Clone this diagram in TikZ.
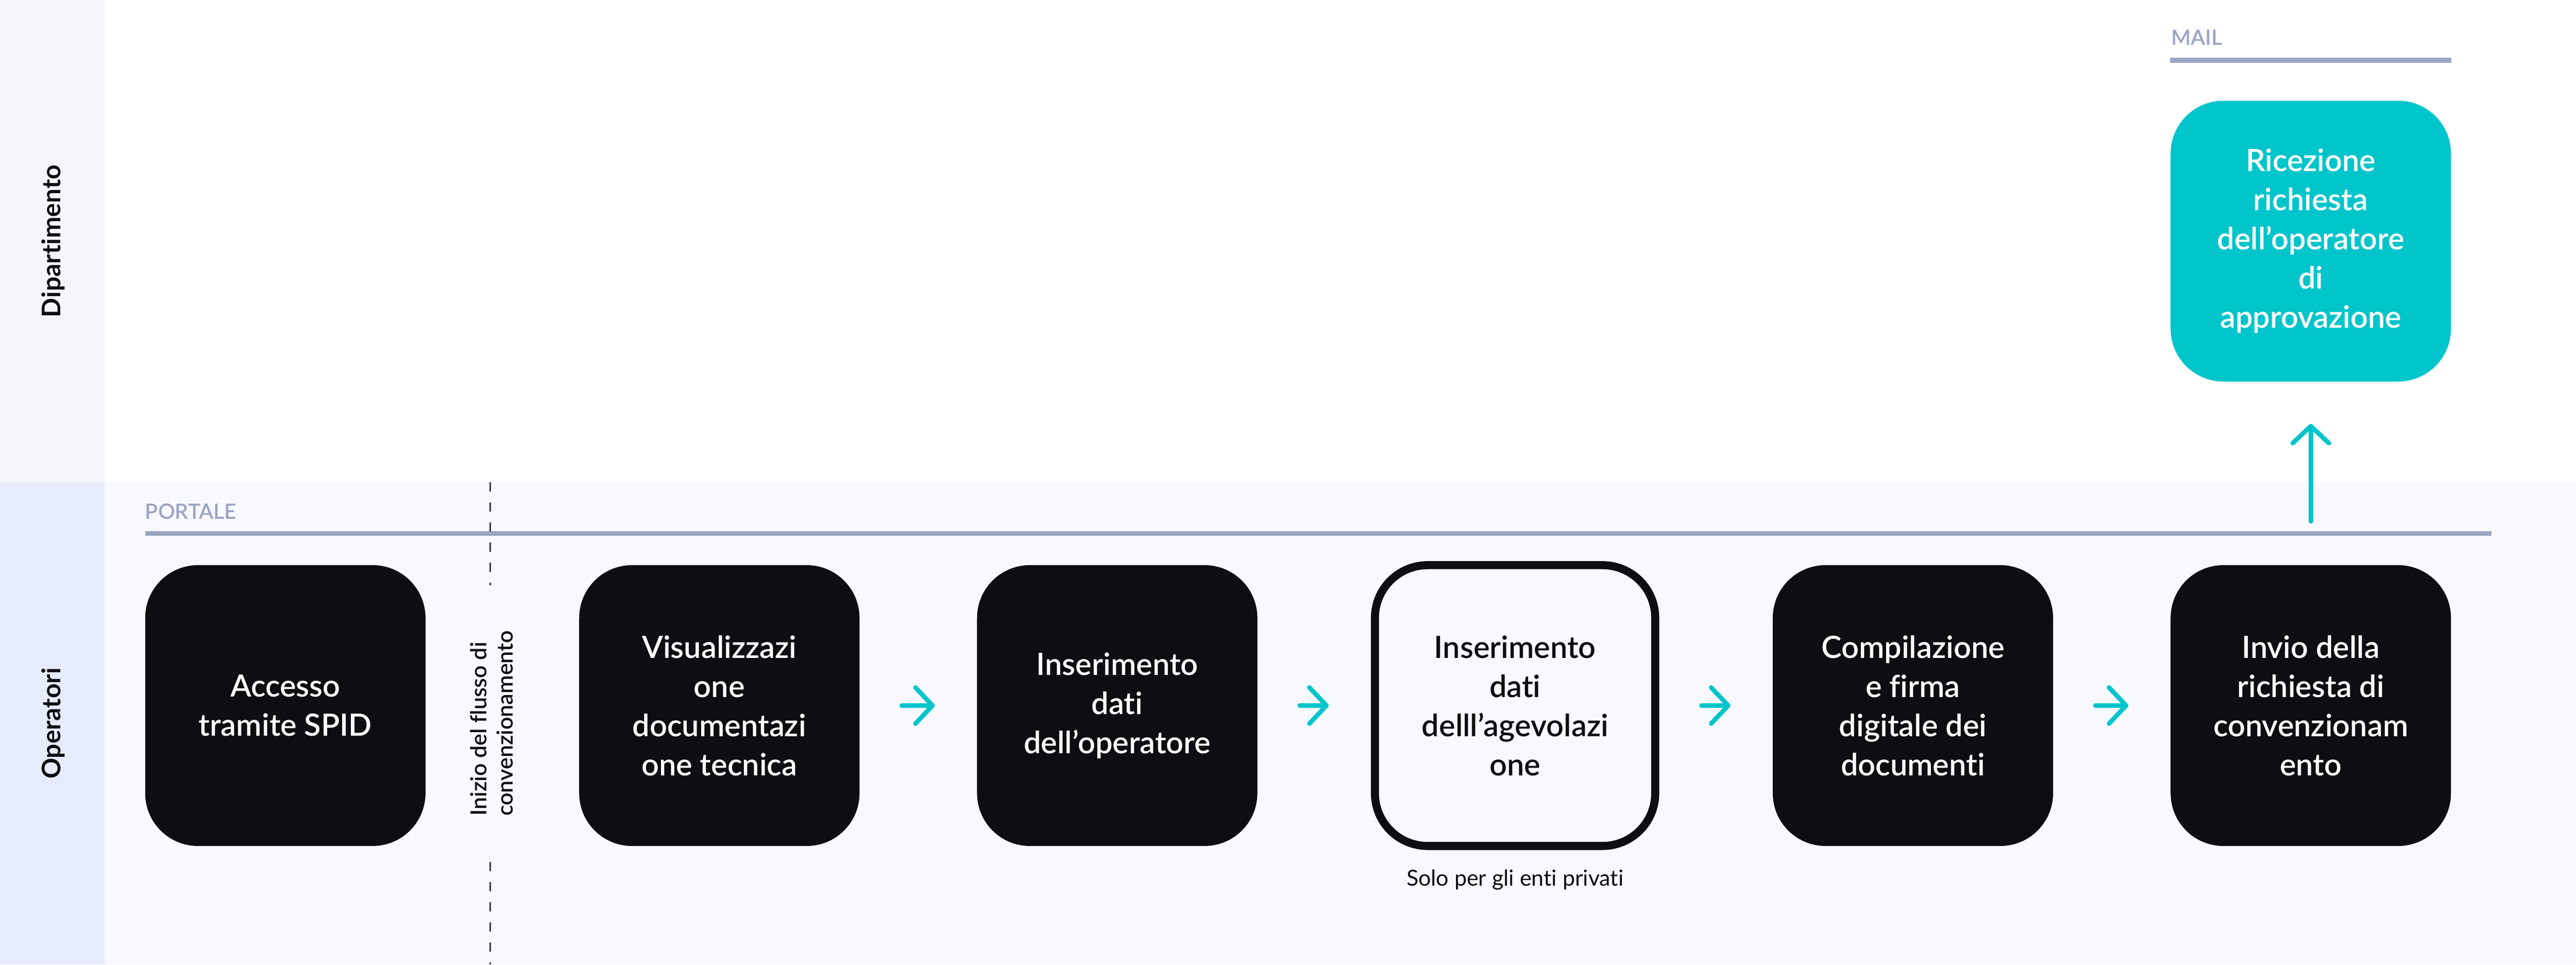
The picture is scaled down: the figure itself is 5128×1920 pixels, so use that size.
\documentclass[tikz,border=0pt]{standalone}
\usepackage{fontspec}
\setmainfont{Lato}[Ligatures={NoCommon,NoRare}]
\newfontfamily\semi{Lato Semibold}[Ligatures={NoCommon,NoRare}]
\usetikzlibrary{arrows.meta}
\definecolor{ink}{HTML}{0D0E12}
\definecolor{tealc}{HTML}{00C5CB}
\definecolor{lanegray}{HTML}{9BA5C4}
\definecolor{toplab}{HTML}{F4F6FB}
\definecolor{botlab}{HTML}{E6ECFB}
\definecolor{botbg}{HTML}{F7F9FE}
\definecolor{dashc}{HTML}{3A3B40}
\tikzset{
  stepbox/.style={rectangle, rounded corners=105pt, minimum width=558pt, minimum height=559pt,
    inner sep=0pt, align=center, font=\semi\fontsize{61}{78}\selectfont},
  darkbox/.style={stepbox, fill=ink, text=white},
  outlbox/.style={stepbox, draw=ink, line width=16pt, fill=botbg, text=ink},
  tealbox/.style={stepbox, fill=tealc, text=white},
  lanelab/.style={rotate=90, inner sep=0pt, text=ink, font=\bfseries\fontsize{51}{60}\selectfont},
  sublab/.style={anchor=base west, inner sep=0pt, text=lanegray, font=\semi\fontsize{42}{50}\selectfont},
  subline/.style={draw=lanegray, line width=10pt},
  flow/.style={draw=tealc, line width=9pt, line cap=round, shorten <=84pt, shorten >=84pt,
    -{Straight Barb[length=34pt,width=72pt,round]}},
  dashline/.style={draw=dashc, line width=3pt, dash pattern=on 18.5pt off 21.5pt},
}
\begin{document}
\begin{tikzpicture}[x=1pt,y=-1pt]
\useasboundingbox (0,0) rectangle (5128,1920);
% lanes
\fill[toplab] (0,0) rectangle (208,960);
\fill[white] (208,0) rectangle (5128,960);
\fill[botlab] (0,960) rectangle (208,1920);
\fill[botbg] (208,960) rectangle (5128,1920);
\node[lanelab] (ldip) at (106,480) {Dipartimento};
\node[lanelab] (lop) at (106,1440) {Operatori};
% sub-lane labels
\node[sublab] (portale) at (289,1033) {PORTALE};
\coordinate (pl1) at (289,1062);
\coordinate (pl2) at (4960,1062);
\draw[subline] (pl1) -- (pl2);
\node[sublab] (mail) at (4322,90) {MAIL};
\coordinate (ml1) at (4320,120);
\coordinate (ml2) at (4880,120);
\draw[subline] (ml1) -- (ml2);
% dashed separator
\coordinate (d1) at (976,960);
\coordinate (d2) at (976,1165);
\coordinate (d3) at (976,1716);
\coordinate (d4) at (976,1920);
\draw[dashline] (d1) -- (d2);
\draw[dashline] (d3) -- (d4);
\node[rotate=90, align=left, inner sep=0pt, text=ink, font=\semi\fontsize{44}{52}\selectfont] (inizio) at (979,1440) {Inizio del flusso di\\convenzionamento};
% boxes
\node[darkbox] (b1) at (568,1404.5) {Accesso\\tramite SPID};
\node[darkbox] (b2) at (1432,1404.5) {Visualizzazi\\one\\documentazi\\one tecnica};
\node[darkbox] (b3) at (2224,1404.5) {Inserimento\\dati\\dell’operatore};
\node[outlbox] (b4) at (3016,1404.5) {Inserimento\\dati\\delll’agevolazi\\one};
\node[darkbox] (b5) at (3808,1404.5) {Compilazione\\e firma\\digitale dei\\documenti};
\node[darkbox] (b6) at (4600,1404.5) {Invio della\\richiesta di\\convenzionam\\ento};
\node[tealbox] (t1) at (4600,480) {Ricezione\\richiesta\\dell’operatore\\di\\approvazione};
\node[anchor=base, inner sep=0pt, text=ink, font=\fontsize{44}{52}\selectfont] (solo) at (3016,1763) {Solo per gli enti privati};
% connectors
\draw[flow] (b2) -- (b3);
\draw[flow] (b3) -- (b4);
\draw[flow] (b4) -- (b5);
\draw[flow] (b5) -- (b6);
\draw[flow, shorten <=87pt] (b6.north) -- (t1.south);
\end{tikzpicture}
\end{document}
